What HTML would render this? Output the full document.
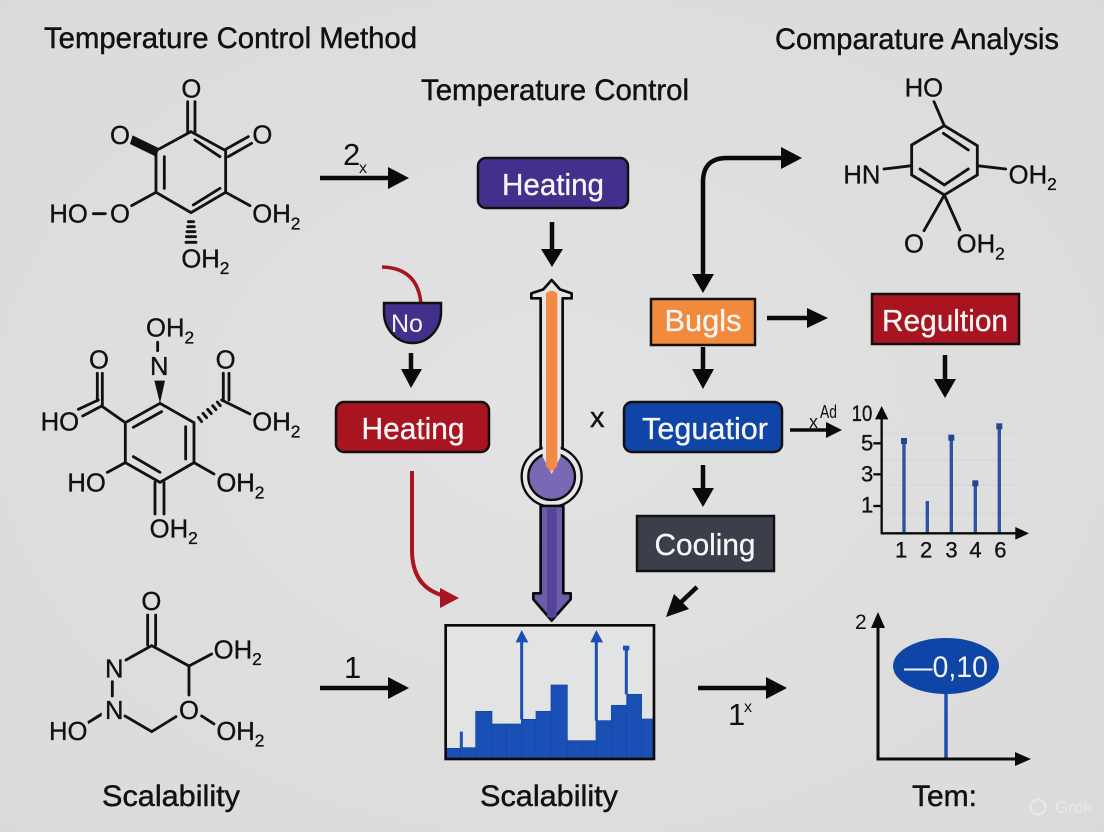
<!DOCTYPE html>
<html><head><meta charset="utf-8"><style>
html,body{margin:0;padding:0;background:#e0e0e0;width:1104px;height:832px;overflow:hidden}
svg{display:block}
text{font-family:"Liberation Sans",sans-serif}
.m line,.m path{stroke:#111;stroke-width:8.500;fill:none;stroke-linecap:round}
.m text{font-size:77px;fill:#111;stroke:#111;stroke-width:1}
.m tspan{font-size:52px}
.a{stroke:#0a0a0a;stroke-width:4.500;fill:none}
.t{fill:#111;font-size:30px;stroke:#111;stroke-width:.45}
.b{font-size:31px;fill:#f6f6f6;text-anchor:middle;stroke:#f6f6f6;stroke-width:.3}
.c text{font-size:66px;fill:#111;stroke:#111;stroke-width:1}
</style></head><body>
<svg width="1104" height="832" viewBox="0 0 1104 832" xmlns="http://www.w3.org/2000/svg">
<defs><radialGradient id="bg" cx="50%" cy="50%" r="75%"><stop offset="0" stop-color="#e2e2e2"/><stop offset="1" stop-color="#dadada"/></radialGradient></defs>
<rect width="1104" height="832" fill="url(#bg)"/>

<text class="t" x="44" y="48" textLength="373" lengthAdjust="spacingAndGlyphs">Temperature Control Method</text>
<text class="t" x="421" y="100" textLength="268" lengthAdjust="spacingAndGlyphs">Temperature Control</text>
<text class="t" x="775" y="49" textLength="284" lengthAdjust="spacingAndGlyphs">Comparature Analysis</text>
<text class="t" x="102" y="806" textLength="138" lengthAdjust="spacingAndGlyphs">Scalability</text>
<text class="t" x="480" y="806" textLength="138" lengthAdjust="spacingAndGlyphs">Scalability</text>
<text class="t" x="912" y="806" textLength="65" lengthAdjust="spacingAndGlyphs">Tem:</text>

<!-- molecule 1 -->
<g class="m" transform="translate(20 60) scale(.3333)">
<path d="M513 215L617 272V397L513 458L408 397V272Z"/>
<line x1="503" y1="125" x2="503" y2="215"/><line x1="525" y1="125" x2="525" y2="215"/>
<line x1="525" y1="240" x2="600" y2="290"/><line x1="433" y1="290" x2="433" y2="385"/><line x1="520" y1="435" x2="600" y2="385"/>
<line x1="617" y1="268" x2="685" y2="230"/><line x1="625" y1="290" x2="695" y2="250"/>
<polygon points="408,290 418,265 338,226 330,252" fill="#111"/>
<line x1="335" y1="437" x2="408" y2="397"/><line x1="617" y1="397" x2="690" y2="437"/><line x1="220" y1="461" x2="256" y2="461"/>
<g style="stroke-width:5"><line x1="505" y1="485" x2="521" y2="485"/><line x1="503" y1="500" x2="523" y2="500"/><line x1="501" y1="515" x2="525" y2="515"/><line x1="499" y1="530" x2="527" y2="530"/><line x1="498" y1="547" x2="528" y2="547"/></g>
<text x="514" y="112" text-anchor="middle">O</text><text x="300" y="252" text-anchor="middle">O</text><text x="727" y="250" text-anchor="middle">O</text>
<text x="88" y="488">HO</text><text x="270" y="488">O</text>
<text x="697" y="488">OH<tspan dy="20">2</tspan></text><text x="484" y="622">OH<tspan dy="20">2</tspan></text>
</g>

<!-- molecule 2 -->
<g class="m" transform="translate(20 310) scale(.3333)">
<path d="M420 280L522 338V458L420 517L316 458V338Z"/>
<line x1="340" y1="352" x2="425" y2="305"/><line x1="497" y1="350" x2="497" y2="447"/><line x1="340" y1="440" x2="420" y2="487"/>
<line x1="405" y1="517" x2="405" y2="612"/><line x1="432" y1="517" x2="432" y2="612"/>
<line x1="316" y1="338" x2="245" y2="288"/><line x1="232" y1="190" x2="232" y2="272"/><line x1="247" y1="190" x2="247" y2="288"/>
<line x1="175" y1="298" x2="235" y2="270"/><line x1="188" y1="318" x2="245" y2="288"/>
<line x1="605" y1="270" x2="690" y2="312"/><line x1="610" y1="190" x2="610" y2="270"/><line x1="627" y1="190" x2="627" y2="270"/>
<g style="stroke-width:5"><line x1="535" y1="322" x2="545" y2="335"/><line x1="549" y1="310" x2="560" y2="323"/><line x1="563" y1="298" x2="574" y2="311"/><line x1="578" y1="287" x2="588" y2="299"/><line x1="592" y1="276" x2="601" y2="287"/></g>
<polygon points="420,280 403,212 435,212" fill="#111"/>
<line x1="413" y1="97" x2="413" y2="122"/>
<line x1="316" y1="458" x2="262" y2="487"/><line x1="522" y1="458" x2="582" y2="492"/>
<text x="378" y="80">OH<tspan dy="20">2</tspan></text>
<text x="390" y="195">N</text>
<text x="237" y="175" text-anchor="middle">O</text><text x="617" y="175" text-anchor="middle">O</text>
<text x="62" y="362">HO</text><text x="697" y="362">OH<tspan dy="20">2</tspan></text>
<text x="142" y="545">HO</text><text x="589" y="545">OH<tspan dy="20">2</tspan></text>
<text x="389" y="682">OH<tspan dy="20">2</tspan></text>
</g>

<!-- molecule 3 -->
<g class="m" transform="translate(20 580) scale(.3333)">
<line x1="383" y1="105" x2="383" y2="195"/><line x1="407" y1="105" x2="407" y2="195"/>
<path d="M318 240L395 197L507 258L575 222M507 258V345M468 410L395 455L315 408M545 408L582 432"/>
<line x1="277" y1="305" x2="277" y2="348"/>
<polygon points="202,424 245,397 245,408 205,432" fill="#111"/>
<text x="394" y="90" text-anchor="middle">O</text>
<text x="581" y="235">OH<tspan dy="20">2</tspan></text>
<text x="255" y="293">N</text><text x="255" y="417">N</text>
<text x="507" y="417" text-anchor="middle">O</text>
<text x="87" y="480">HO</text><text x="589" y="480">OH<tspan dy="20">2</tspan></text>
</g>

<!-- molecule 4 -->
<g class="m" transform="translate(830 70) scale(.3333)">
<path d="M343 167L442 227V315L343 375L245 315V225Z"/>
<line x1="340" y1="190" x2="415" y2="240"/><line x1="270" y1="297" x2="343" y2="345"/><line x1="343" y1="345" x2="415" y2="297"/>
<line x1="312" y1="95" x2="343" y2="167"/><line x1="162" y1="297" x2="245" y2="287"/><line x1="442" y1="287" x2="527" y2="297"/>
<line x1="343" y1="375" x2="282" y2="482"/><line x1="343" y1="375" x2="390" y2="480"/>
<text x="224" y="80">HO</text><text x="40" y="340">HN</text>
<text x="536" y="340">OH<tspan dy="20">2</tspan></text>
<text x="252" y="548" text-anchor="middle">O</text><text x="380" y="548">OH<tspan dy="20">2</tspan></text>
</g>

<!-- arrows -->
<g>
<line x1="320" y1="178" x2="392" y2="178" class="a"/><polygon points="388,167 409,178 388,189" fill="#0a0a0a"/>
<line x1="552" y1="222" x2="552" y2="250" class="a"/><polygon points="541,249 552,267 563,249" fill="#0a0a0a"/>
<path d="M703 275V182Q703 158 727 158H785" class="a"/><polygon points="692,274 703,293 714,274" fill="#0a0a0a"/><polygon points="781,147 802,158 781,169" fill="#0a0a0a"/>
<line x1="767" y1="318" x2="812" y2="318" class="a"/><polygon points="807,308 828,318 807,328" fill="#0a0a0a"/>
<line x1="945" y1="355" x2="945" y2="382" class="a"/><polygon points="934,379 945,398 956,379" fill="#0a0a0a"/>
<line x1="703" y1="347" x2="703" y2="372" class="a"/><polygon points="692,369 703,389 714,369" fill="#0a0a0a"/>
<line x1="411" y1="353" x2="411" y2="372" class="a"/><polygon points="401,369 411,388 422,369" fill="#0a0a0a"/>
<line x1="703" y1="465" x2="703" y2="490" class="a"/><polygon points="692,488 703,507 714,488" fill="#0a0a0a"/>
<line x1="790" y1="430" x2="828" y2="430" stroke="#0a0a0a" stroke-width="3.500"/><polygon points="826,422 842,430 826,438" fill="#0a0a0a"/>
<line x1="697" y1="587" x2="678" y2="605" class="a"/><polygon points="666,617 674,594 689,609" fill="#0a0a0a"/>
<line x1="320" y1="688" x2="392" y2="688" class="a"/><polygon points="388,677 409,688 388,699" fill="#0a0a0a"/>
<line x1="698" y1="688" x2="770" y2="688" class="a"/><polygon points="766,677 787,688 766,699" fill="#0a0a0a"/>
</g>
<path d="M412 471V550Q412 588 445 596" stroke="#a8141f" stroke-width="4" fill="none"/>
<polygon points="440,588 459,598 440,608" fill="#a8141f"/>
<path d="M382 267Q418 268 421 304" stroke="#a8141f" stroke-width="3.500" fill="none"/>

<text x="343" y="165" font-size="31" fill="#111">2</text><text x="359" y="173" font-size="16" fill="#111">x</text>
<text x="344" y="678" font-size="31" fill="#111">1</text>
<text x="728" y="725" font-size="31" fill="#111">1</text><text x="744" y="712" font-size="16" fill="#111">x</text>
<text x="590" y="427" font-size="29" fill="#111" stroke="#111" stroke-width=".4">x</text>
<text x="809" y="428" font-size="18" fill="#111">x</text><text x="820" y="418" font-size="18" fill="#111" textLength="17" lengthAdjust="spacingAndGlyphs">Ad</text>

<!-- nodes -->
<rect x="478" y="158" width="150" height="50" rx="8" fill="#43308c" stroke="#111" stroke-width="2.500"/><text class="b" x="553" y="195" textLength="102" lengthAdjust="spacingAndGlyphs">Heating</text>
<rect x="651" y="299" width="104" height="46" fill="#f28a3c" stroke="#111" stroke-width="2.500"/><text class="b" x="703" y="331" textLength="77" lengthAdjust="spacingAndGlyphs">Bugls</text>
<rect x="872" y="294" width="147" height="50" fill="#a8141f" stroke="#111" stroke-width="2.500"/><text class="b" x="945" y="331" textLength="126" lengthAdjust="spacingAndGlyphs">Regultion</text>
<rect x="336" y="402" width="153" height="50" rx="8" fill="#a8141f" stroke="#111" stroke-width="2.500"/><text class="b" x="413" y="439" textLength="103" lengthAdjust="spacingAndGlyphs">Heating</text>
<rect x="624" y="402" width="158" height="50" rx="8" fill="#0f45a6" stroke="#111" stroke-width="2.500"/><text class="b" x="705" y="439" textLength="126" lengthAdjust="spacingAndGlyphs">Teguatior</text>
<rect x="637" y="516" width="137" height="55" fill="#3c3f4a" stroke="#111" stroke-width="2.500"/><text class="b" x="705" y="555" textLength="101" lengthAdjust="spacingAndGlyphs">Cooling</text>
<path d="M384 303H441V312A28.500 31 0 0 1 384 312Z" fill="#43308c" stroke="#111" stroke-width="2.500"/>
<text x="391" y="332" font-size="25" fill="#f4f4f4">No</text>

<!-- thermometer -->
<g transform="translate(370 260) scale(.3333)">
<path d="M545 60L570 88L605 100V115H578V570H512V115H484V100L520 88Z" fill="#e6e6e6" stroke="#0a0a0a" stroke-width="8" stroke-linejoin="round"/>
<circle cx="545" cy="650" r="90" fill="#e6e6e6" stroke="#0a0a0a" stroke-width="7"/>
<rect x="520" y="540" width="50" height="50" fill="#e6e6e6"/>
<circle cx="545" cy="650" r="70" fill="#7a68b5" stroke="#0a0a0a" stroke-width="7"/>
<path d="M518 590V110H572V590L545 642Z" fill="#e6e6e6"/>
<path d="M528 100Q545 85 562 100V618L545 635L528 618Z" fill="#f28a46"/>
<path d="M512 738H580V1000H602V1018L545 1082L490 1018V1000H512Z" fill="#6e5cab" stroke="#0a0a0a" stroke-width="8" stroke-linejoin="round"/>
<path d="M531 745H560V1070L545 1075L531 1070Z" fill="#54459a"/>
</g>

<!-- bar chart -->
<g transform="translate(430 580) scale(.3333)">
<rect x="47" y="136" width="625" height="401" fill="#e2e3e3"/>
<g fill="#1a4fb5" stroke="#1644a0" stroke-width="2">
<rect x="47" y="505" width="45" height="32"/><rect x="92" y="503" width="45" height="34"/><rect x="137" y="394" width="49" height="143"/><rect x="186" y="432" width="44" height="105"/><rect x="230" y="432" width="44" height="105"/><rect x="274" y="418" width="44" height="119"/><rect x="318" y="394" width="45" height="143"/><rect x="363" y="315" width="49" height="222"/><rect x="412" y="482" width="44" height="55"/><rect x="456" y="482" width="42" height="55"/><rect x="498" y="422" width="46" height="115"/><rect x="544" y="376" width="46" height="161"/><rect x="590" y="343" width="45" height="194"/><rect x="635" y="417" width="37" height="120"/>
</g>
<g stroke="#1a4fb5" stroke-width="9"><line x1="275" y1="180" x2="275" y2="418"/><line x1="499" y1="180" x2="499" y2="422"/><line x1="589" y1="205" x2="589" y2="343"/><line x1="94" y1="455" x2="94" y2="505"/></g>
<polygon points="275,150 295,187 257,187" fill="#1a4fb5"/><polygon points="499,150 519,187 481,187" fill="#1a4fb5"/>
<rect x="579" y="197" width="19" height="14" fill="#1a4fb5"/>
<rect x="47" y="136" width="625" height="401" fill="none" stroke="#0a0a0a" stroke-width="8"/>
</g>

<!-- stem chart -->
<g class="c" transform="translate(780 390) scale(.3333)">
<g stroke="#d3d5d6" stroke-width="3"><line x1="310" y1="130" x2="705" y2="130"/><line x1="310" y1="210" x2="705" y2="210"/><line x1="310" y1="285" x2="705" y2="285"/><line x1="310" y1="370" x2="705" y2="370"/></g>
<g stroke="#2b52a5" stroke-width="10"><line x1="372" y1="153" x2="372" y2="430"/><line x1="442" y1="333" x2="442" y2="430"/><line x1="514" y1="143" x2="514" y2="430"/><line x1="586" y1="281" x2="586" y2="430"/><line x1="658" y1="110" x2="658" y2="430"/></g>
<g fill="#24468f"><rect x="363" y="144" width="18" height="18"/><rect x="505" y="134" width="18" height="18"/><rect x="577" y="271" width="18" height="18"/><rect x="649" y="100" width="18" height="18"/></g>
<g stroke="#0a0a0a" stroke-width="7"><line x1="305" y1="80" x2="305" y2="430"/><line x1="302" y1="430" x2="715" y2="430"/><line x1="280" y1="160" x2="305" y2="160"/><line x1="280" y1="253" x2="305" y2="253"/><line x1="280" y1="348" x2="305" y2="348"/></g>
<polygon points="305,48 325,88 285,88" fill="#0a0a0a"/><polygon points="747,430 706,411 706,449" fill="#0a0a0a"/>
<text x="215" y="93" textLength="62" lengthAdjust="spacingAndGlyphs">10</text><text x="243" y="182">5</text><text x="243" y="275">3</text><text x="243" y="368">1</text>
<text x="345" y="502">1</text><text x="420" y="502">2</text><text x="496" y="502">3</text><text x="568" y="502">4</text><text x="643" y="502">6</text>
</g>

<!-- pin chart -->
<line x1="946" y1="692" x2="946" y2="759" stroke="#1a4fb5" stroke-width="3.500"/>
<ellipse cx="946" cy="666" rx="53" ry="28" fill="#0f45a6"/>
<text x="946" y="677" font-size="30" fill="#f4f4f4" text-anchor="middle" textLength="84" lengthAdjust="spacingAndGlyphs">—0,10</text>
<path d="M878 625V759H1017" stroke="#0a0a0a" stroke-width="3" fill="none"/>
<polygon points="878,612 885,628 871,628" fill="#0a0a0a"/><polygon points="1031,759 1015,752 1015,766" fill="#0a0a0a"/>
<text x="855" y="629" font-size="21" fill="#111">2</text>

<text x="1055" y="813" font-size="17" fill="#e8e8e8">Grok</text>
<circle cx="1038" cy="807" r="7.500" fill="none" stroke="#e8e8e8" stroke-width="2"/>
</svg>
</body></html>
